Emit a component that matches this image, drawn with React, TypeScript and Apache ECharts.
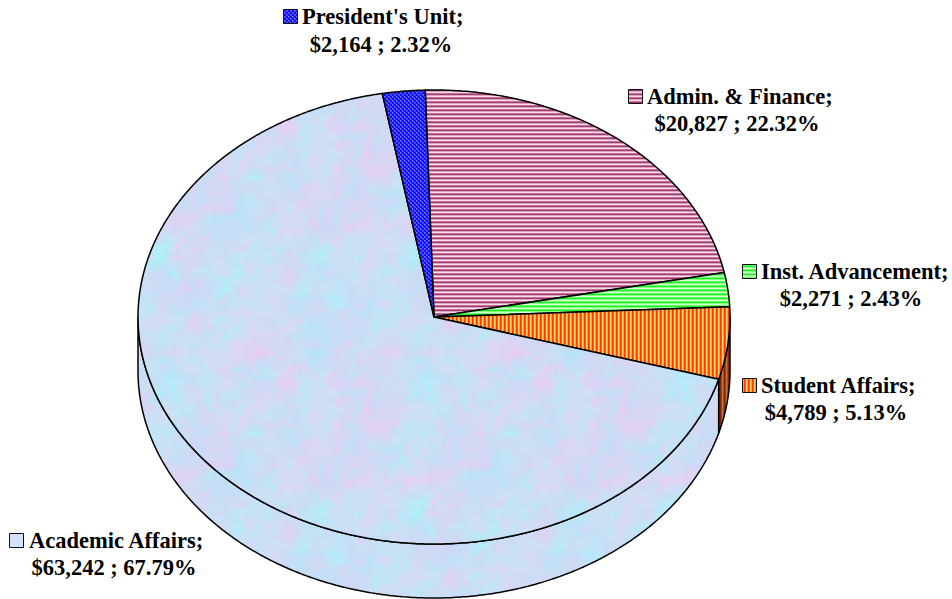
import React, { useEffect, useRef } from "react";
import * as echarts from "echarts";

const categories = ["Admin. & Finance", "Inst. Advancement", "Student Affairs", "Academic Affairs", "President's Unit"];
const amounts = [20827, 2271, 4789, 63242, 2164];
const amountLabels = ["$20,827", "$2,271", "$4,789", "$63,242", "$2,164"];
const percentLabels = ["22.32%", "2.43%", "5.13%", "67.79%", "2.32%"];

// layout
const CX = 434, CY = 317, RX = 296, RY = 227, DEPTH = 54, START_DEG = -1.7;
const labelLayout = [
  { sx: 628, sy: 89, x1: 647, y1: 96, x2: 737, y2: 123 },
  { sx: 742, sy: 264, x1: 761, y1: 271, x2: 851, y2: 298 },
  { sx: 742, sy: 378, x1: 761, y1: 385, x2: 836, y2: 412 },
  { sx: 9, sy: 533, x1: 29, y1: 540, x2: 114, y2: 567 },
  { sx: 283, sy: 9, x1: 302, y1: 16, x2: 381, y2: 44 },
];
const FONT = { fontFamily: "Liberation Serif", fontSize: 22.5, fontWeight: "bold" as const, fill: "#000" };

function tile(w: number, h: number, paint: (c: CanvasRenderingContext2D) => void) {
  const cv = document.createElement("canvas");
  cv.width = w; cv.height = h;
  paint(cv.getContext("2d")!);
  return { image: cv, repeat: "repeat", imageWidth: w, imageHeight: h };
}
const hStripes = (cols: string[]) =>
  tile(4, cols.length, (c) => cols.forEach((k, i) => { c.fillStyle = k; c.fillRect(0, i, 4, 1); }));
const vStripes = (cols: string[]) =>
  tile(cols.length, 4, (c) => cols.forEach((k, i) => { c.fillStyle = k; c.fillRect(i, 0, 1, 4); }));
const dots = () =>
  tile(4, 4, (c) => {
    c.fillStyle = "#1010FF"; c.fillRect(0, 0, 4, 4);
    c.fillStyle = "#4040FF"; c.fillRect(0, 0, 2, 2); c.fillRect(2, 2, 2, 2);
    c.fillStyle = "#7878FF"; c.fillRect(0, 0, 1, 1); c.fillRect(2, 2, 1, 1);
  });

// Mottled paper texture from a deterministic tiling value noise.
function mottled() {
  const S = 256;
  const hash = (x: number, y: number, p: number, seed: number) => {
    const v = Math.sin(((x + p) % p) * 127.1 + ((y + p) % p) * 311.7 + seed * 74.7) * 43758.5453;
    return v - Math.floor(v);
  };
  const noise = (x: number, y: number, cell: number, seed: number) => {
    const p = Math.round(S / cell);
    const gx = x / cell, gy = y / cell;
    const ix = Math.floor(gx), iy = Math.floor(gy);
    let fx = gx - ix, fy = gy - iy;
    fx = fx * fx * (3 - 2 * fx); fy = fy * fy * (3 - 2 * fy);
    const a = hash(ix, iy, p, seed), b = hash(ix + 1, iy, p, seed);
    const c = hash(ix, iy + 1, p, seed), d = hash(ix + 1, iy + 1, p, seed);
    return a + (b - a) * fx + (c - a) * fy + (a - b - c + d) * fx * fy;
  };
  const mix = (x: number, y: number, s: number) =>
    noise(x, y, 32, s) * 0.34 + noise(x, y, 16, s + 1) * 0.24 + noise(x, y, 8, s + 2) * 0.24 + noise(x, y, 4, s + 3) * 0.18;
  return tile(S, S, (c) => {
    const img = c.createImageData(S, S);
    for (let y = 0; y < S; y++) for (let x = 0; x < S; x++) {
      const n1 = (mix(x, y, 1) - 0.5) * 2.6; // pink <-> blue
      const n2 = (mix(x, y, 9) - 0.5) * 2.6; // cyan <-> lilac
      const i = (y * S + x) * 4;
      img.data[i] = 205 + 30 * n1 - 12 * n2;
      img.data[i + 1] = 220 - 14 * n1 + 11 * n2;
      img.data[i + 2] = 245 - 3 * n1 + 1 * n2;
      img.data[i + 3] = 255;
    }
    c.putImageData(img, 0, 0);
  });
}

const pt = (deg: number, dy = 0): number[] => {
  const t = (deg * Math.PI) / 180;
  return [CX + RX * Math.sin(t), CY - RY * Math.cos(t) + dy];
};
const arc = (a: number, b: number, dy = 0) => {
  const out: number[][] = [];
  const n = Math.max(2, Math.ceil(Math.abs(b - a) * 2));
  for (let i = 0; i <= n; i++) out.push(pt(a + ((b - a) * i) / n, dy));
  return out;
};

export default function App() {
  const ref = useRef<HTMLDivElement>(null);
  useEffect(() => {
    const chart = echarts.init(ref.current!, null, { renderer: "svg" });
    const fills = [
      hStripes(["#F8DCE8", "#C76E9A", "#9C3F70", "#DFA4C0"]),
      hStripes(["#D4FFD4", "#66FF66", "#20F020", "#88FF88"]),
      vStripes(["#FF3A10", "#FF5A18", "#FFD860", "#FFA030"]),
      mottled(),
      dots(),
    ];
    const sideFills: any[] = [null, null, vStripes(["#7E2410", "#96401A", "#C87A30", "#A05020"]), fills[3], null];
    const keyFills = [fills[0], fills[1], fills[2], "#D2E2F8", fills[4]];
    const total = amounts.reduce((s, v) => s + v, 0);
    const before: number[] = [];
    amounts.reduce((s, v, i) => { before[i] = s; return s + v; }, 0);

    const LINE = { stroke: "#000", lineWidth: 1.5, lineJoin: "round" as const };
    const renderItem = (params: any, api: any) => {
      const i = params.dataIndex;
      const a0 = START_DEG + (api.value(1) / total) * 360;
      const a1 = a0 + (api.value(0) / total) * 360;
      const children: any[] = [];
      const s0 = Math.max(a0, 90), s1 = Math.min(a1, 270);
      if (s1 > s0 && sideFills[i]) {
        children.push({
          type: "polygon",
          z2: 1,
          shape: { points: [...arc(s0, s1), ...arc(s1, s0, DEPTH)] },
          style: { fill: sideFills[i], ...LINE },
        });
      }
      children.push({
        type: "polygon",
        z2: 2,
        shape: { points: [[CX, CY], ...arc(a0, a1)] },
        style: { fill: fills[i], ...LINE },
      });
      const L = labelLayout[i];
      children.push({
        type: "rect",
        z2: 3,
        shape: { x: L.sx + 0.5, y: L.sy + 0.5, width: 14, height: 14 },
        style: { fill: keyFills[i], stroke: "#111", lineWidth: 1 },
      });
      children.push({
        type: "text", z2: 3, x: L.x1, y: L.y1,
        style: { ...FONT, text: categories[i] + ";", textAlign: "left", textVerticalAlign: "middle" },
      });
      children.push({
        type: "text", z2: 3, x: L.x2, y: L.y2,
        style: { ...FONT, text: `${amountLabels[i]} ; ${percentLabels[i]}`, textAlign: "center", textVerticalAlign: "middle" },
      });
      return { type: "group", children };
    };

    chart.setOption({
      animation: false,
      backgroundColor: "#fff",
      series: [{
        type: "custom",
        coordinateSystem: "none",
        silent: true,
        renderItem,
        data: amounts.map((v, i) => [v, before[i]]),
      }],
    });
    return () => chart.dispose();
  }, []);
  return <div ref={ref} style={{ position: "absolute", left: 0, top: 0, width: 952, height: 599 }} />;
}
